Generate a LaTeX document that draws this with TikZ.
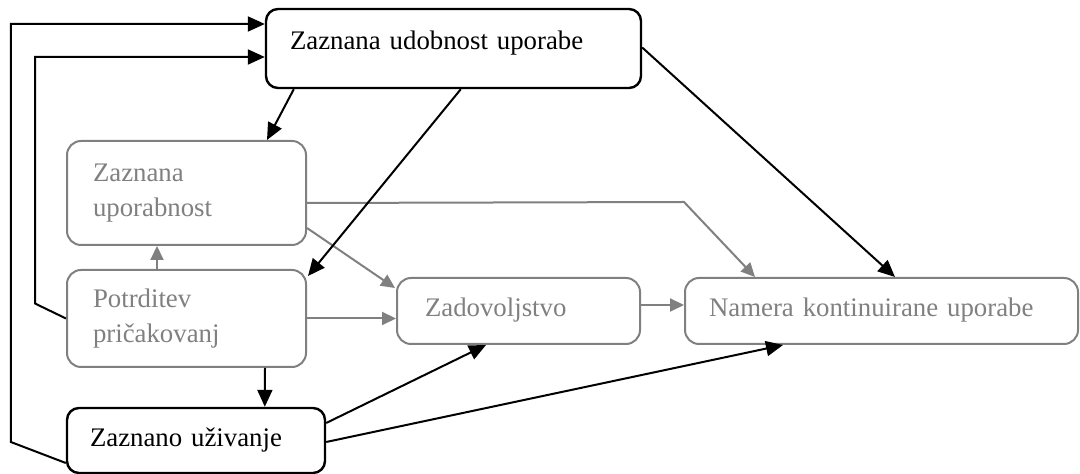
\documentclass[tikz,border=0pt]{standalone}
\usepackage{fontspec}
\setmainfont{Liberation Serif}
\usetikzlibrary{arrows.meta,calc}
\definecolor{linegray}{RGB}{128,128,128}
\begin{document}
\begin{tikzpicture}[x=0.5pt,y=-0.5pt,
  font=\fontsize{13.4pt}{17.25pt}\selectfont,
  box/.style={rectangle, align=left, inner ysep=0pt, anchor=center},
  keybox/.style={box, draw=black, line width=1.2pt, text=black, rounded corners=6pt},
  softbox/.style={box, draw=linegray, line width=1pt, text=linegray, rounded corners=7pt},
  oneline/.style={text height=9.5pt, text depth=3.5pt},
  dark/.style={draw=black, line width=1pt, -{Triangle[length=8.5pt,width=7.5pt]}},
  soft/.style={draw=linegray, line width=1pt, -{Triangle[length=7pt,width=6.5pt]}},
]
\useasboundingbox (0,0) rectangle (1080,474);

% constructs
\node[keybox, minimum width=187.5pt, minimum height=39.5pt, text width=163.5pt,
      inner xsep=12pt, text height=9.5pt, text depth=8pt]
  (A) at (453.5,48.5) {Zaznana udobnost uporabe};
\node[softbox, minimum width=119.5pt, minimum height=52pt, text width=93.5pt, inner xsep=13pt]
  (B) at (186.5,193) {Zaznana\\uporabnost};
\node[softbox, minimum width=119.5pt, minimum height=48.5pt, text width=93.5pt, inner xsep=13pt]
  (C) at (186.5,318.5) {Potrditev\\pričakovanj};
\node[keybox, oneline, minimum width=129pt, minimum height=32.5pt, text width=106pt, inner xsep=11.5pt]
  (D) at (196,440.5) {Zaznano uživanje};
\node[softbox, oneline, minimum width=121.5pt, minimum height=33pt, text width=93.5pt, inner xsep=14pt]
  (E) at (518.5,311) {Zadovoljstvo};
\node[softbox, oneline, minimum width=196.5pt, minimum height=33pt, text width=172.5pt, inner xsep=12pt]
  (F) at (881.5,311) {Namera kontinuirane uporabe};

% grey paths
\draw[soft] ($(C.north west)+(91,0)$) -- ($(B.south west)+(91,0)$);
\draw[soft] ($(B.east)+(0,35)$) -- ($(E.north west)+(-1,11)$);
\draw[soft] ($(B.east)+(0,10)$) -- ($(F.north west)+(0,-75)$) -- ($(F.north west)+(71,0)$);
\draw[soft] (C.east) -- (C.east -| E.west);
\draw[soft] ($(E.east)+(0,-6)$) -- ($(F.west)+(0,-6)$);

% black paths
\draw[dark] ($(A.south west)+(29,0)$) -- ($(B.north west)+(201,0)$);
\draw[dark] ($(A.south west)+(196,0)$) -- ($(C.north east)+(1,7)$);
\draw[dark] ($(A.east)+(0,-1)$) -- ($(F.north west)+(211,0)$);
\draw[dark] (C.west) -- ++(-31,-15) |- ($(A.west)+(0,8.5)$);
\draw[dark] ($(D.west)+(0,22.5)$) -- ++(-55,-21) |- ($(A.west)+(0,-24.5)$);
\draw[dark] ($(C.south west)+(199,0)$) -- ($(D.north west)+(199,0)$);
\draw[dark] ($(D.east)+(0,-17.5)$) -- ($(E.south west)+(90,0)$);
\draw[dark] ($(D.east)+(0,1.5)$) -- ($(F.south west)+(99,0)$);
\end{tikzpicture}
\end{document}
